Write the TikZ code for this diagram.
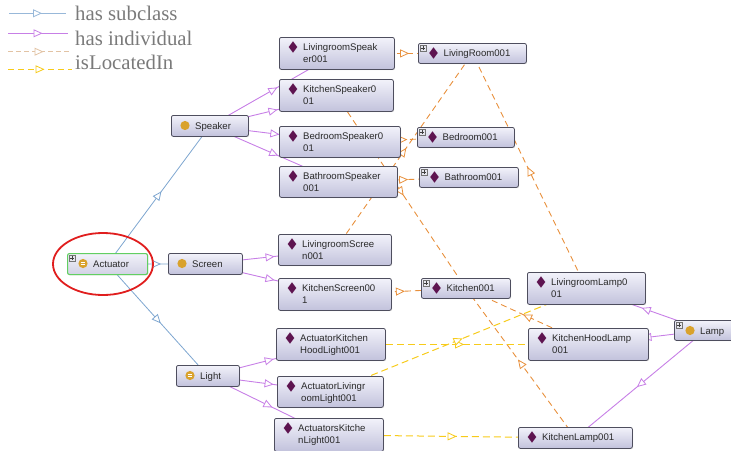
\documentclass[tikz,border=0pt]{standalone}
\usepackage{fontspec}
\setmainfont{Liberation Sans}
\newfontfamily\legfont{Liberation Serif}
\usetikzlibrary{arrows.meta,decorations.markings,backgrounds,shadows}
\definecolor{subc}{HTML}{7EA6D0}
\definecolor{indc}{HTML}{C77FE6}
\definecolor{locc}{HTML}{E8903C}
\definecolor{yelc}{HTML}{F7CB1A}
\definecolor{diac}{HTML}{5E1450}
\definecolor{circc}{HTML}{D9A22C}
\definecolor{bord}{HTML}{4E4E5E}
\definecolor{boxtop}{HTML}{F2F2FA}
\definecolor{boxbot}{HTML}{C2C2DC}
\definecolor{legc}{HTML}{7A7A7A}
\definecolor{txtc}{HTML}{2A2A2A}
\definecolor{tanc}{HTML}{E2C3A4}
\definecolor{grn}{HTML}{62CF62}
\definecolor{plusf}{HTML}{E6E6EE}
\definecolor{ellc}{HTML}{E01E1E}
\tikzset{
  obox/.style={draw=bord, line width=0.8pt, rounded corners=2pt, top color=boxtop, bottom color=boxbot,
    inner sep=0pt, drop shadow={opacity=0.22, shadow xshift=0.8pt, shadow yshift=-0.8pt}},
  gbox/.style={obox, draw=grn, line width=1.1pt, bottom color=boxbot!75!white},
  ntxt/.style={anchor=base west, inner sep=0pt, text=txtc, font=\fontsize{9.6}{11.5}\selectfont},
  legtxt/.style={anchor=base west, inner sep=0pt, text=legc, font=\legfont\fontsize{20.8}{24}\selectfont},
  midarr/.style={postaction={decorate}, decoration={markings, mark=at position 0.5 with
    {\arrow[xshift=4.5pt]{Triangle[length=9pt,width=8pt,fill=white,line width=0.8pt]}}}},
  subcl/.style={draw=subc, line width=0.8pt, midarr},
  indiv/.style={draw=indc, line width=0.9pt, midarr},
  locin/.style={draw=locc, line width=0.9pt, dash pattern=on 6pt off 4pt, midarr},
  ylocin/.style={draw=yelc, line width=1pt, dash pattern=on 7pt off 4pt, midarr},
  legsub/.style={draw=subc!80!white, line width=0.8pt, midarr},
  legind/.style={draw=indc, line width=1.6pt, midarr},
  legtan/.style={draw=tanc, line width=0.9pt, dash pattern=on 5pt off 3pt, midarr},
  legyel/.style={draw=yelc, line width=1.6pt, dash pattern=on 6pt off 4pt, midarr},
}
% individual box: [icon offset] name x y w h line1 line2
\newcommand\indbox[8][14]{%
  \node[obox, minimum width=#5, minimum height=#6, anchor=north west] (#2) at (#3,#4) {};
  \fill[diac] ({#3+#1},{#4+4.3}) -- ({#3+#1+4.3},{#4+10}) -- ({#3+#1},{#4+15.7}) -- ({#3+#1-4.3},{#4+10}) -- cycle;
  \node[ntxt] at ({#3+#1+10},{#4+13.5}) {#7};
  \node[ntxt] at ({#3+#1+10},{#4+25}) {#8};
}
% class box: [icon offset] style name x y w h text
\newcommand\clsbox[8][14]{%
  \node[#2, minimum width=#6, minimum height=#7, anchor=north west] (#3) at (#4,#5) {};
  \fill[circc] ({#4+#1},{#5+10.5}) circle (4.6pt);
  \node[ntxt] at ({#4+#1+10},{#5+14}) {#8};
}
\newcommand\eqicon[2]{%
  \draw[white, line width=0.7pt] ({#1-2.4},{#2-1.3}) -- ({#1+2.4},{#2-1.3}) ({#1-2.4},{#2+1.3}) -- ({#1+2.4},{#2+1.3});
}
\newcommand\plusb[2]{%
  \draw[fill=plusf, draw=black!55, line width=0.5pt] ({#1+2},{#2+2}) rectangle ({#1+8},{#2+8});
  \draw[line width=0.5pt, black!75] ({#1+3.3},{#2+5}) -- ({#1+6.7},{#2+5}) ({#1+5},{#2+3.3}) -- ({#1+5},{#2+6.7});
}
\begin{document}
\begin{tikzpicture}[x=1pt,y=-1pt]
\useasboundingbox (0,0) rectangle (731,450);

% class nodes
\clsbox[16]{gbox}{act}{67}{253}{80}{21}{Actuator}
\plusb{67}{253}
\eqicon{83}{263.5}
\clsbox{obox}{spk}{171}{115}{77}{21}{Speaker}
\clsbox{obox}{scr}{168}{253}{74}{21}{Screen}
\clsbox{obox}{lgt}{176}{365}{63}{21}{Light}
\eqicon{190}{375.5}
\clsbox[16]{obox}{lamp}{674}{320}{62}{20}{Lamp}
\plusb{674}{320}

% individuals
\indbox{ls}{279}{37}{115}{32}{LivingroomSpeak}{er001}
\indbox{ks}{279}{79}{114}{32}{KitchenSpeaker0}{01}
\indbox{bs}{279}{126}{121}{31}{BedroomSpeaker0}{01}
\indbox{bas}{279}{166}{118}{31}{BathroomSpeaker}{001}
\indbox[15.5]{lr}{418}{43}{108}{20}{LivingRoom001}{}
\plusb{418}{43}
\indbox[15.5]{bed}{417}{127}{97}{20}{Bedroom001}{}
\plusb{417}{127}
\indbox[15.5]{bath}{419}{167}{99}{20}{Bathroom001}{}
\plusb{419}{167}
\indbox{lscr}{278}{234}{113}{31}{LivingroomScree}{n001}
\indbox{kscr}{278}{278}{113}{32}{KitchenScreen00}{1}
\indbox[15.5]{kit}{421}{278}{89}{20}{Kitchen001}{}
\plusb{421}{278}
\indbox{akhl}{276}{328}{109}{32}{ActuatorKitchen}{HoodLight001}
\indbox{all}{277}{376}{106}{31}{ActuatorLivingr}{oomLight001}
\indbox{akl}{274}{418}{109}{33}{ActuatorsKitche}{nLight001}
\indbox{ll}{527}{272}{118}{32}{LivingroomLamp0}{01}
\indbox{khl}{528}{328}{120}{32}{KitchenHoodLamp}{001}
\indbox{kl}{518}{427}{114}{21}{KitchenLamp001}{}

% edges behind the boxes
\begin{pgfonlayer}{background}
\draw[subcl] (act.center) -- (spk.center);
\draw[subcl] (act.center) -- (scr.center);
\draw[subcl] (act.center) -- (lgt.center);

\draw[indiv] (spk.center) -- (ls.center);
\draw[indiv] (spk.center) -- (ks.center);
\draw[indiv] (spk.center) -- (bs.center);
\draw[indiv] (spk.center) -- (bas.center);
\draw[indiv] (scr.center) -- (lscr.center);
\draw[indiv] (scr.center) -- (kscr.center);
\draw[indiv] (lgt.center) -- (akhl.center);
\draw[indiv] (lgt.center) -- (all.center);
\draw[indiv] (lgt.center) -- (akl.center);
\draw[indiv] (lamp.center) -- (ll.center);
\draw[indiv] (lamp.center) -- (khl.center);
\draw[indiv] (lamp.center) -- (kl.center);

\draw[locin] (ls.center) -- (lr.center);
\draw[locin] (bs.center) -- (bed.center);
\draw[locin] (bas.center) -- (bath.center);
\draw[locin] (ks.center) -- (kit.center);
\draw[locin] (kscr.center) -- (kit.center);
\draw[locin] (lscr.center) -- (lr.center);
\draw[locin] (ll.center) -- (lr.center);
\draw[locin] (khl.center) -- (kit.center);
\draw[locin] (kl.center) -- (kit.center);

\draw[ylocin] (akhl.center) -- (khl.center);
\draw[ylocin] (all.center) -- (ll.center);
\draw[ylocin] (akl.center) -- (kl.center);
\end{pgfonlayer}

% highlight
\draw[ellc, line width=1.8pt] (103,264) ellipse [x radius=50pt, y radius=31pt];

% legend
\coordinate (la1) at (9,13.3);   \coordinate (lb1) at (66,13.3);
\coordinate (la2) at (8,33.3);   \coordinate (lb2) at (68,33.3);
\coordinate (la3) at (8,51.7);   \coordinate (lb3) at (70,51.7);
\coordinate (la4) at (8,69.3);   \coordinate (lb4) at (72,69.3);
\draw[legsub] (la1) -- (lb1);
\draw[legind] (la2) -- (lb2);
\draw[legtan] (la3) -- (lb3);
\draw[legyel] (la4) -- (lb4);
\node[legtxt] (lt1) at (75,20.5) {has subclass};
\node[legtxt] (lt2) at (75,45) {has individual};
\node[legtxt] (lt3) at (75,69.5) {isLocatedIn};
\end{tikzpicture}
\end{document}
